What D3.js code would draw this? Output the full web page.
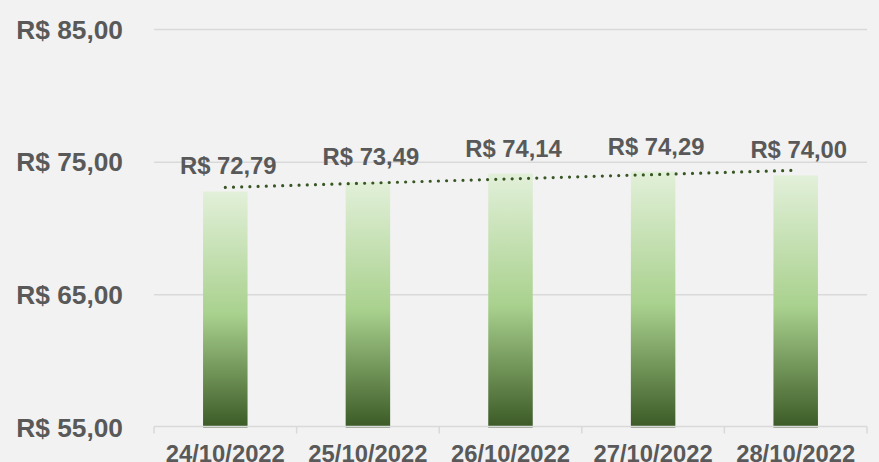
<!DOCTYPE html>
<html><head><meta charset="utf-8">
<script src="https://cdn.jsdelivr.net/npm/d3@7"></script>
<style>
html,body{margin:0;padding:0;background:#f2f2f2;}
svg{display:block;font-family:"Liberation Sans",Arial,sans-serif;}
</style></head>
<body>
<svg id="c" width="879" height="462"></svg>
<script>
const categories = ["24/10/2022","25/10/2022","26/10/2022","27/10/2022","28/10/2022"];
const values = [72.79, 73.49, 74.14, 74.29, 74.00];
const yTicks = [55, 65, 75, 85];
const yDomain = [55, 85];

const W = 879, H = 462;
const svg = d3.select("#c");
svg.append("rect").attr("width", W).attr("height", H).attr("fill", "#f2f2f2");

const fmt = v => "R$ " + v.toFixed(2).replace(".", ",");

const x = d3.scaleBand().domain(categories).range([154, 867]).padding(0);
const y = d3.scaleLinear().domain(yDomain).range([427.5, 29.5]);

// gradient
const defs = svg.append("defs");
const g = defs.append("linearGradient").attr("id", "barGrad")
  .attr("x1", 0).attr("y1", 1).attr("x2", 0).attr("y2", 0);
g.append("stop").attr("offset", "0%").attr("stop-color", "#3b5a26");
g.append("stop").attr("offset", "48%").attr("stop-color", "#a9d18e");
g.append("stop").attr("offset", "100%").attr("stop-color", "#e2f0d9");

// gridlines
svg.append("g").selectAll("line").data(yTicks.filter(t => t !== yDomain[0])).join("line")
  .attr("x1", 154).attr("x2", 867)
  .attr("y1", d => y(d)).attr("y2", d => y(d))
  .attr("stroke", "#d9d9d9").attr("stroke-width", 1.5);

// y labels
svg.append("g").selectAll("text").data(yTicks).join("text")
  .attr("x", 123).attr("y", d => y(d)).attr("dy", "0.35em")
  .attr("text-anchor", "end")
  .attr("font-size", 26.3).attr("font-weight", "bold").attr("fill", "#595959")
  .text(d => fmt(d));

// bars
const bw = x.bandwidth() * 0.312;
svg.append("g").selectAll("rect").data(values).join("rect")
  .attr("x", (d, i) => x(categories[i]) + x.bandwidth() / 2 - bw / 2)
  .attr("width", bw)
  .attr("y", d => y(d))
  .attr("height", d => y(yDomain[0]) - y(d))
  .attr("fill", "url(#barGrad)");

// x axis
const xAxis = d3.axisBottom(x).tickSize(0).tickSizeOuter(0);
const ax = svg.append("g").attr("transform", `translate(0,${y(yDomain[0]) - 1})`);
ax.append("line").attr("x1", 154).attr("x2", 867).attr("y1", 0).attr("y2", 0)
  .attr("stroke", "#d9d9d9").attr("stroke-width", 1.5);
const bounds = categories.map(c => x(c)).concat([x(categories[categories.length - 1]) + x.bandwidth()]);
ax.selectAll("line.tk").data(bounds).join("line").attr("class", "tk")
  .attr("x1", d => d).attr("x2", d => d).attr("y1", 0).attr("y2", 7)
  .attr("stroke", "#d9d9d9").attr("stroke-width", 1.5);
ax.selectAll("text").data(categories).join("text")
  .attr("x", d => x(d) + x.bandwidth() / 2).attr("y", 35)
  .attr("text-anchor", "middle")
  .attr("font-size", 23.8).attr("font-weight", "bold").attr("fill", "#595959")
  .text(d => d);

// trendline (linear regression)
const n = values.length;
const xm = (n - 1) / 2, ym = d3.mean(values);
let num = 0, den = 0;
values.forEach((v, i) => { num += (i - xm) * (v - ym); den += (i - xm) * (i - xm); });
const slope = num / den, icpt = ym - slope * xm;
const cx = i => x(categories[i]) + x.bandwidth() / 2;
svg.append("line")
  .attr("x1", cx(0)).attr("y1", y(icpt))
  .attr("x2", cx(n - 1)).attr("y2", y(icpt + slope * (n - 1)))
  .attr("stroke", "#375623").attr("stroke-width", 3.2)
  .attr("stroke-linecap", "round").attr("stroke-dasharray", "0 8.2");

// data labels
svg.append("g").selectAll("text").data(values).join("text")
  .attr("x", (d, i) => cx(i) + 3).attr("y", d => y(d) - 17)
  .attr("text-anchor", "middle")
  .attr("font-size", 23.8).attr("font-weight", "bold").attr("fill", "#595959")
  .text(d => fmt(d));
</script>
</body></html>
